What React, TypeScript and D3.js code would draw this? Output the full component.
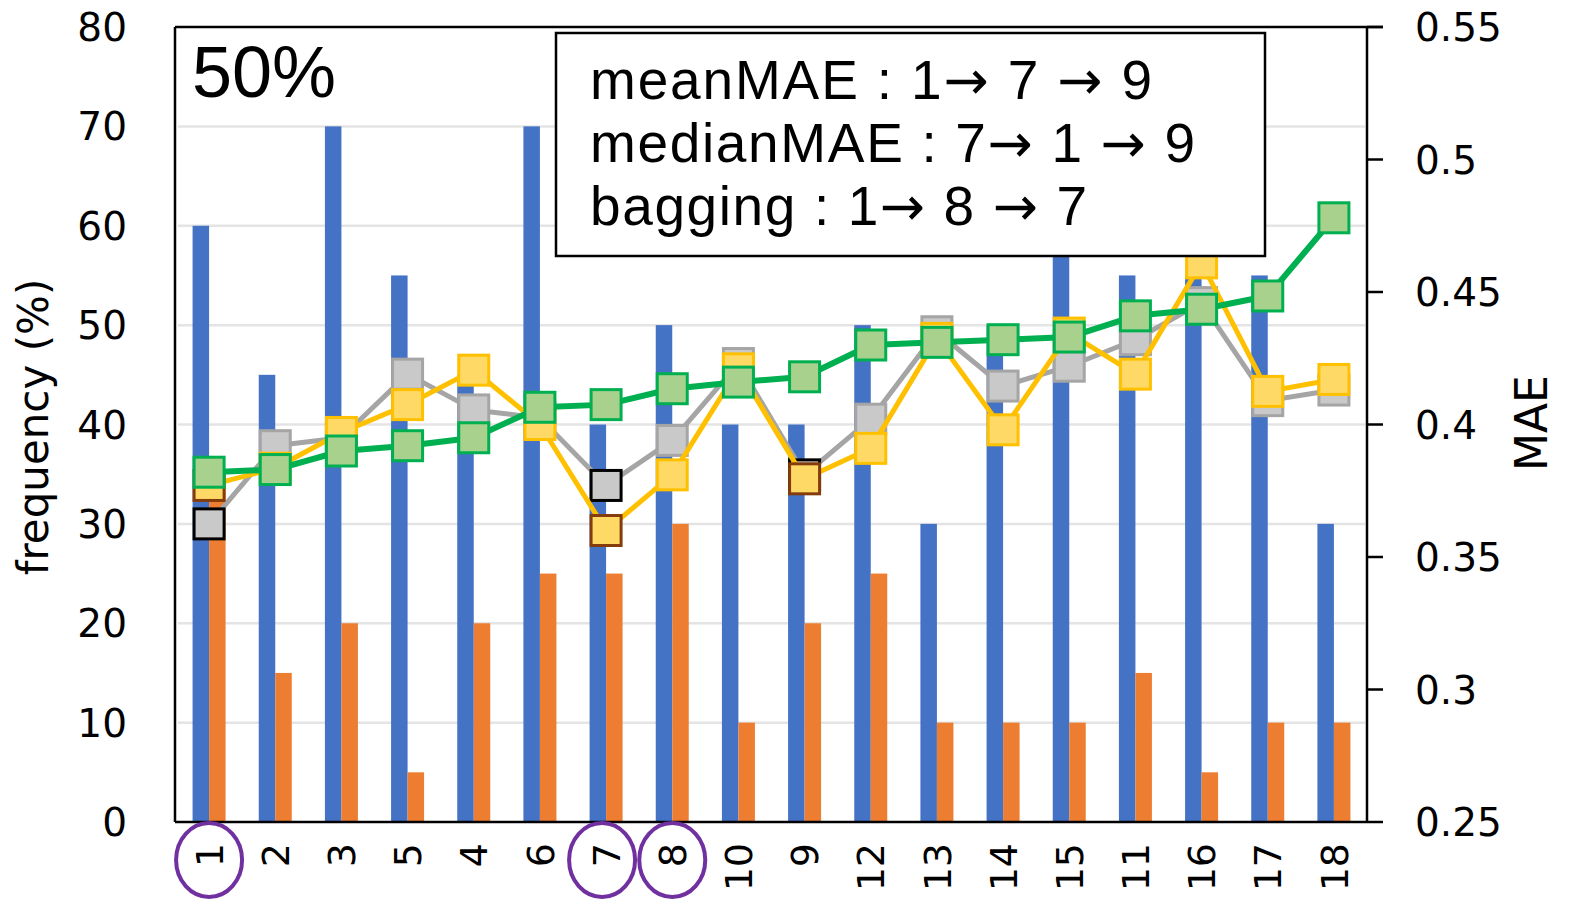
import * as d3 from "d3";

// x categories (model ids in the plotted order)
const categories = ["1", "2", "3", "5", "4", "6", "7", "8", "10", "9", "12", "13", "14", "15", "11", "16", "17", "18"];

// frequency (%) — left axis
const freqBlue = [60, 45, 70, 55, 45, 70, 40, 50, 40, 40, 50, 30, 50, 60, 55, 55, 55, 30];
const freqOrange = [35, 15, 20, 5, 20, 25, 25, 30, 10, 20, 25, 10, 10, 10, 15, 5, 10, 10];

// MAE — right axis
const maeMean = [0.3625, 0.392, 0.395, 0.419, 0.4055, 0.4025, 0.377, 0.394, 0.423, 0.381, 0.402, 0.435, 0.4145, 0.422, 0.432, 0.446, 0.409, 0.413];
const maeMedian = [0.377, 0.3835, 0.397, 0.4075, 0.4205, 0.4, 0.36, 0.381, 0.421, 0.3795, 0.391, 0.4325, 0.398, 0.4345, 0.419, 0.461, 0.4125, 0.417];
const maeBagging = [0.382, 0.383, 0.39, 0.392, 0.395, 0.4065, 0.4075, 0.4135, 0.416, 0.418, 0.43, 0.431, 0.432, 0.433, 0.441, 0.4435, 0.4485, 0.478];

// top-3 picks highlighted with dark borders
const meanTop = ["1", "7", "9"];
const medianTop = ["1", "7", "9"];
const circled = ["1", "7", "8"];

const leftTicks = [0, 10, 20, 30, 40, 50, 60, 70, 80];
const rightTicks = [0.25, 0.3, 0.35, 0.4, 0.45, 0.5, 0.55];

// note box: label and ranking per line
const noteLabels = ["meanMAE", "medianMAE", "bagging"];
const noteRanks = [["1", "7", "9"], ["7", "1", "9"], ["1", "8", "7"]];
const noteWidths = [562, 605, 497];

const W = 1570;
const H = 901;
const L = 175, R = 1367, T = 27, B = 822;
const axisFont = "'DejaVu Sans', sans-serif";
const noteFont = "'Liberation Sans', Arial, sans-serif";
const arrowFont = "'DejaVu Sans', sans-serif";

export default function App() {
  const x = d3.scaleBand<string>().domain(categories).range([L + 1, R]).padding(0);
  const cx = (c: string) => (x(c) ?? 0) + x.bandwidth() / 2;
  const yL = d3.scaleLinear().domain([0, 80]).range([B, T]);
  const yR = d3.scaleLinear().domain([0.25, 0.55]).range([B, T]);

  const barW = 16.5;
  const mk = 30;

  const series = [
    { vals: maeMean, line: "#a5a5a5", fill: "#c9c9c9", stroke: "#a5a5a5", top: meanTop, topStroke: "#000000", lw: 5 },
    { vals: maeMedian, line: "#ffc000", fill: "#ffd966", stroke: "#ffc000", top: medianTop, topStroke: "#843c0c", lw: 5 },
    { vals: maeBagging, line: "#00b050", fill: "#a9d18e", stroke: "#00b050", top: [] as string[], topStroke: "#00b050", lw: 6 },
  ];

  const lineGen = d3
    .line<number>()
    .x((_, i) => cx(categories[i]))
    .y((d) => yR(d));

  const arrow = (k: string) => (
    <tspan key={k} fontFamily={arrowFont} fontSize={54}>
      {"\u2192"}
    </tspan>
  );

  return (
    <svg width={W} height={H} style={{ position: "absolute", left: 0, top: 0, background: "#fff" }}>
      {/* gridlines */}
      {leftTicks.filter((t) => t > 0 && t < 80).map((t) => (
        <line key={"g" + t} x1={L + 3} x2={R - 2} y1={yL(t)} y2={yL(t)} stroke="#e4e4e4" strokeWidth={2.5} />
      ))}

      {/* bars */}
      {categories.map((c, i) => (
        <g key={"b" + c}>
          <rect x={cx(c) - barW} y={yL(freqBlue[i])} width={barW} height={B - yL(freqBlue[i])} fill="#4472c4" />
          <rect x={cx(c)} y={yL(freqOrange[i])} width={barW} height={B - yL(freqOrange[i])} fill="#ed7d31" />
        </g>
      ))}

      {/* MAE lines with square markers */}
      {series.map((s, si) => (
        <g key={"s" + si}>
          <path d={lineGen(s.vals) ?? ""} fill="none" stroke={s.line} strokeWidth={s.lw} strokeLinejoin="round" />
          {categories.map((c, i) => (
            <rect
              key={c}
              x={cx(c) - mk / 2}
              y={yR(s.vals[i]) - mk / 2}
              width={mk}
              height={mk}
              fill={s.fill}
              stroke={s.top.includes(c) ? s.topStroke : s.stroke}
              strokeWidth={3}
            />
          ))}
        </g>
      ))}

      {/* frame / axes */}
      <line x1={L} x2={L} y1={T} y2={B} stroke="#000" strokeWidth={2.5} />
      <line x1={L} x2={R + 16} y1={T} y2={T} stroke="#000" strokeWidth={2.5} />
      <line x1={R} x2={R} y1={T} y2={B} stroke="#000" strokeWidth={2.5} />
      <line x1={L} x2={R} y1={B} y2={B} stroke="#000" strokeWidth={2.5} />
      {rightTicks.map((t) => (
        <line key={"rt" + t} x1={R} x2={R + 16} y1={yR(t)} y2={yR(t)} stroke="#000" strokeWidth={2.5} />
      ))}

      {/* left tick labels */}
      {leftTicks.map((t) => (
        <text key={"lt" + t} x={127} y={yL(t)} dy="0.36em" textAnchor="end" fontFamily={axisFont} fontSize={39} fill="#000">
          {t}
        </text>
      ))}
      {/* right tick labels */}
      {rightTicks.map((t) => (
        <text key={"rl" + t} x={1415} y={yR(t)} dy="0.36em" textAnchor="start" fontFamily={axisFont} fontSize={39} fill="#000">
          {String(+t.toFixed(2))}
        </text>
      ))}

      {/* x tick labels */}
      {categories.map((c) => (
        <text
          key={"xl" + c}
          transform={`translate(${cx(c)},843) rotate(-90)`}
          dy="0.36em"
          textAnchor="end"
          fontFamily={axisFont}
          fontSize={38}
          fill="#000"
        >
          {c}
        </text>
      ))}

      {/* circled categories */}
      {circled.map((c) => (
        <ellipse key={"e" + c} cx={cx(c) - (c === "7" ? 4 : 0)} cy={860} rx={33} ry={37} fill="none" stroke="#7030a0" strokeWidth={4} />
      ))}

      {/* axis titles */}
      <text transform="translate(48,427) rotate(-90)" textAnchor="middle" fontFamily={axisFont} fontSize={42} fill="#000">
        frequency (%)
      </text>
      <text transform="translate(1547,423) rotate(-90)" textAnchor="middle" fontFamily={axisFont} fontSize={44} fill="#000">
        MAE
      </text>

      {/* panel label */}
      <text x={192} y={97} fontFamily={noteFont} fontSize={72} fill="#000">
        50%
      </text>

      {/* note box */}
      <rect x={556} y={33} width={709} height={223} fill="#fff" stroke="#000" strokeWidth={2.5} />
      {noteLabels.map((lab, i) => {
        const [a, b, c] = noteRanks[i];
        return (
          <text
            key={"n" + i}
            x={590}
            y={99 + i * 63}
            fontFamily={noteFont}
            fontSize={55}
            fill="#000"
            xmlSpace="preserve"
            textLength={noteWidths[i]}
            lengthAdjust="spacing"
          >
            {`${lab} : ${a}`}
            {arrow("a1")}
            {` ${b} `}
            {arrow("a2")}
            {` ${c}`}
          </text>
        );
      })}
    </svg>
  );
}
